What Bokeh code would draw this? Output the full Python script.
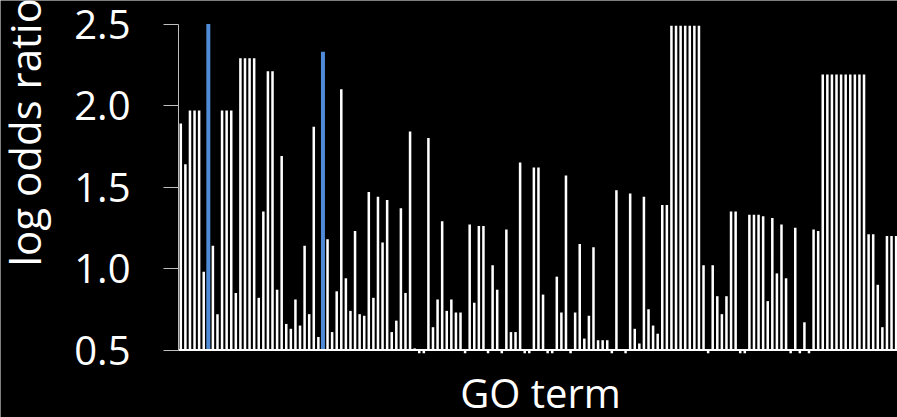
import math
from bokeh.plotting import figure
from bokeh.models import Range1d, FixedTicker, PrintfTickFormatter
from bokeh.core.properties import value
from bokeh.embed import file_html
from bokeh.resources import INLINE

# GO term index (1..157) and log odds ratios
log_odds = [
    1.89, 1.64, 1.97, 1.97, 1.97, 0.98, 2.50, 1.14, 0.72, 1.97,
    1.97, 1.97, 0.85, 2.29, 2.29, 2.29, 2.29, 0.82, 1.35, 2.21,
    2.21, 0.87, 1.69, 0.66, 0.63, 0.81, 0.65, 1.14, 0.72, 1.87,
    0.58, 2.33, 1.18, 0.61, 0.86, 2.10, 0.94, 0.74, 1.23, 0.72,
    0.71, 1.47, 0.82, 1.44, 1.16, 1.42, 0.61, 0.68, 1.37, 0.85,
    1.84, 0.51, 0.48, 0.48, 1.80, 0.64, 0.81, 1.29, 0.74, 0.81,
    0.73, 0.73, 0.48, 1.27, 0.79, 1.26, 1.26, 0.48, 1.02, 0.87,
    0.48, 1.24, 0.61, 0.61, 1.65, 0.48, 0.48, 1.62, 1.62, 0.84,
    0.48, 0.48, 0.95, 0.73, 1.57, 0.48, 0.73, 1.15, 0.57, 0.71,
    1.13, 0.56, 0.56, 0.56, 0.48, 1.48, 0.50, 0.48, 1.46, 0.63,
    0.54, 1.44, 0.75, 0.65, 0.60, 1.39, 1.39, 2.49, 2.49, 2.49,
    2.49, 2.49, 2.49, 2.49, 1.02, 0.48, 1.02, 0.83, 0.72, 0.83,
    1.35, 1.35, 0.48, 0.48, 1.33, 1.33, 1.33, 1.32, 0.80, 1.31,
    0.97, 1.27, 0.94, 0.48, 1.25, 0.48, 0.67, 0.48, 1.24, 1.23,
    2.19, 2.19, 2.19, 2.19, 2.19, 2.19, 2.19, 2.19, 2.19, 2.19,
    1.21, 1.21, 0.90, 0.64, 1.20, 1.20, 1.20,
]
go_index = list(range(1, len(log_odds) + 1))
highlighted = [7, 32]
y_ticks = [0.5, 1.0, 1.5, 2.0, 2.5]
baseline = 0.5
x_title = "GO term"
y_title = "log odds ratio"

plain_x = [i for i in go_index if i not in highlighted]
plain_top = [log_odds[i - 1] for i in plain_x]
hi_top = [log_odds[i - 1] for i in highlighted]

FONT = "Open Sans"
X_START, X_END = -38.32, 157.3
AXIS_X = 0.5  # left edge of the first category: where the y axis sits

# the frame covers the whole canvas; the y axis is pinned at the first category edge
p = figure(width=897, height=417, output_backend="svg", toolbar_location=None,
           x_range=Range1d(X_START, X_END), y_range=Range1d(0.0859, 2.6442),
           min_border=0)
p.background_fill_color = "black"
p.border_fill_color = "black"
p.outline_line_color = "black"
p.outline_line_alpha = 0
p.grid.visible = False
p.xaxis.visible = False

p.vbar(x=plain_x, top=plain_top, bottom=baseline, width=0.55,
       fill_color="white", line_color=None)
p.vbar(x=highlighted, top=hi_top, bottom=baseline, width=0.87,
       fill_color="#4f8bd6", line_color=None)

# horizontal category axis line at the baseline
p.segment(x0=[AXIS_X], y0=[baseline], x1=[X_END], y1=[baseline],
          line_color="white", line_width=2)

ya = p.yaxis[0]
ya.fixed_location = AXIS_X
ya.ticker = FixedTicker(ticks=y_ticks)
ya.formatter = PrintfTickFormatter(format="%.1f")
ya.bounds = (y_ticks[0], y_ticks[-1])
ya.axis_line_color = "#bfbfbf"
ya.major_tick_line_color = "#bfbfbf"
ya.major_tick_out = 15
ya.major_tick_in = 0
ya.minor_tick_line_color = None
ya.major_label_standoff = 33
ya.major_label_text_font = FONT
ya.major_label_text_font_size = "40px"
ya.major_label_text_color = "white"

# axis titles
p.text(x=[79.45], y=[0.239], text=[x_title], text_font=value(FONT),
       text_font_size="40px", text_color="white", text_align="center",
       text_baseline="alphabetic")
p.text(x=[-33.09], y=[1.012], text=[y_title], angle=math.pi / 2,
       text_font=value(FONT), text_font_size="42px", text_color="white",
       text_align="left", text_baseline="alphabetic")

open("out.html", "w").write(file_html(p, INLINE))
